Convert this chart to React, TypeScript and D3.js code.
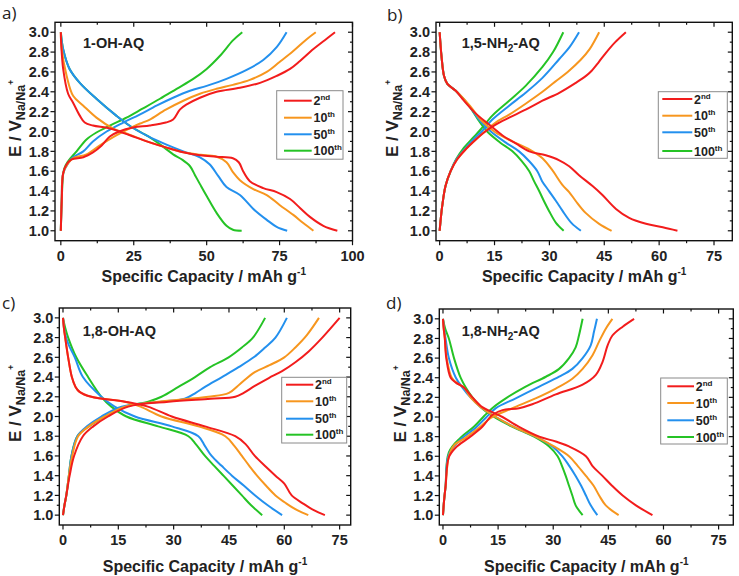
import React from "react";
import * as d3 from "d3";

type Pt = [number, number];

// Cycle legend entries shared by all four panels
const CYCLE_LABELS = ["2", "10", "50", "100"];
const CYCLE_SUFFIX = ["nd", "th", "th", "th"];
const CYCLE_COLORS = ["#f21c1c", "#f7961e", "#2390ee", "#25c325"];

const V_MAJOR = [1.0, 1.2, 1.4, 1.6, 1.8, 2.0, 2.2, 2.4, 2.6, 2.8, 3.0];
const V_MINOR = [1.1, 1.3, 1.5, 1.7, 1.9, 2.1, 2.3, 2.5, 2.7, 2.9];
const CAP_MAJOR_100 = [0, 25, 50, 75, 100];
const CAP_MINOR_100 = [12.5, 37.5, 62.5, 87.5];
const CAP_MAJOR_75 = [0, 15, 30, 45, 60, 75];
const CAP_MINOR_75 = [7.5, 22.5, 37.5, 52.5, 67.5];

// 1-OH-AQ : [capacity mAh/g, voltage V] per cycle (2nd, 10th, 50th, 100th)
const OH1_CHARGE: Pt[][] = [
  [[0,1.0],[0.3,1.3],[0.8,1.58],[2,1.67],[3.7,1.72],[7.7,1.74],[11,1.79],[14,1.86],[16.8,1.95],[20,2.0],[24.8,2.04],[30.5,2.06],[36,2.09],[38.5,2.12],[40.8,2.22],[43,2.27],[47.7,2.34],[53.4,2.4],[61.4,2.44],[68.3,2.49],[74,2.56],[78.6,2.63],[82,2.71],[86.6,2.83],[90.5,2.92],[94,3.0]],
  [[0,1.0],[0.3,1.3],[0.8,1.58],[2.5,1.68],[4.2,1.73],[8.8,1.77],[13.4,1.86],[19,1.96],[24.8,2.05],[28,2.09],[30.5,2.12],[36,2.22],[42,2.31],[47.7,2.38],[53.4,2.43],[59,2.47],[64.8,2.52],[70.6,2.6],[75,2.7],[79.7,2.81],[84.3,2.93],[87.4,3.0]],
  [[0,1.0],[0.3,1.3],[0.8,1.58],[2.5,1.68],[4.2,1.74],[7.7,1.8],[11,1.9],[15.7,2.0],[21.4,2.09],[27,2.17],[32.8,2.26],[38.5,2.34],[44.3,2.41],[50,2.46],[56.8,2.53],[63.7,2.62],[69.4,2.72],[74,2.85],[77.4,3.0]],
  [[0,1.0],[0.3,1.3],[1.1,1.62],[2.5,1.7],[5.4,1.8],[8.8,1.92],[12.2,1.99],[16.8,2.06],[22.5,2.14],[28,2.23],[34,2.33],[39.7,2.43],[45.4,2.53],[50,2.63],[54.5,2.76],[59.1,2.92],[62.2,3.0]],
];
const OH1_DISCHARGE: Pt[][] = [
  [[0,3.0],[0.1,2.9],[0.8,2.63],[2.5,2.38],[4.2,2.29],[6.5,2.16],[8.2,2.09],[11,2.06],[16.8,2.03],[24.8,1.95],[30.5,1.89],[36,1.84],[42,1.79],[47.7,1.76],[53.4,1.745],[59,1.73],[61,1.69],[62.5,1.6],[64.8,1.5],[69.4,1.43],[74,1.39],[78.6,1.32],[82,1.23],[85.4,1.14],[90,1.05],[94.8,1.0]],
  [[0,3.0],[0.3,2.83],[2,2.56],[4.2,2.36],[7.7,2.26],[12.2,2.14],[18,2.03],[22.5,1.98],[30.5,1.89],[36,1.84],[42,1.79],[48,1.765],[53,1.75],[56.8,1.69],[59,1.59],[61.4,1.51],[66,1.42],[70.6,1.36],[75,1.26],[79.7,1.16],[83,1.08],[86.6,1.0]],
  [[0,3.0],[0.8,2.83],[3,2.63],[6.5,2.49],[12.2,2.33],[19,2.16],[24,2.05],[30,1.95],[36,1.87],[42,1.8],[47.7,1.74],[51,1.67],[54,1.55],[56.8,1.44],[61.4,1.36],[66,1.22],[70.6,1.11],[74,1.04],[77.6,1.0]],
  [[0,3.0],[0.8,2.83],[3,2.63],[6.5,2.49],[12.2,2.33],[19,2.16],[24,2.05],[30,1.95],[34,1.87],[38.5,1.77],[41.4,1.72],[44.3,1.65],[46,1.56],[47.7,1.47],[50,1.35],[53.4,1.18],[56.8,1.05],[59,1.01],[62,1.0]],
];

// 1,5-NH2-AQ
const NH15_CHARGE: Pt[][] = [
  [[0,1.0],[0.3,1.12],[0.7,1.25],[1.6,1.45],[3,1.6],[4.8,1.72],[7.1,1.82],[9.9,1.92],[12.1,1.99],[15.3,2.07],[19,2.14],[23.5,2.22],[28.1,2.31],[32.7,2.39],[37.2,2.49],[40,2.56],[41.5,2.61],[43.5,2.7],[45.4,2.79],[48,2.9],[50.9,3.0]],
  [[0,1.0],[0.3,1.12],[0.7,1.25],[1.6,1.45],[3,1.6],[4.8,1.72],[7.1,1.82],[9.9,1.92],[12.1,1.99],[15.3,2.09],[19,2.17],[23.5,2.28],[28.1,2.4],[31.5,2.5],[35,2.6],[38.5,2.72],[41,2.83],[43.6,3.0]],
  [[0,1.0],[0.3,1.12],[0.7,1.25],[1.6,1.45],[3,1.6],[4.6,1.72],[6.8,1.82],[9.5,1.93],[11.5,2.0],[14.4,2.12],[19,2.26],[23.5,2.39],[28.1,2.54],[32.7,2.73],[35.5,2.85],[38.1,3.0]],
  [[0,1.0],[0.3,1.12],[0.7,1.25],[1.6,1.45],[3,1.6],[4.5,1.72],[6.5,1.83],[9.2,1.94],[11.2,2.02],[14.4,2.16],[19,2.31],[23.5,2.46],[28.1,2.65],[31,2.8],[33.8,3.0]],
];
const NH15_DISCHARGE: Pt[][] = [
  [[0,3.0],[0.5,2.76],[1.2,2.56],[2.1,2.48],[4.4,2.41],[6.2,2.33],[9.9,2.18],[13.5,2.07],[17.2,1.96],[20.8,1.88],[24.5,1.8],[29,1.76],[32.7,1.71],[35.4,1.65],[38.1,1.56],[41.8,1.45],[44.5,1.36],[48.2,1.22],[51.8,1.13],[56.4,1.07],[61,1.035],[65,1.0]],
  [[0,3.0],[0.5,2.76],[1.2,2.56],[2.1,2.48],[4.4,2.41],[8,2.27],[11.7,2.1],[15.3,1.99],[19.9,1.9],[24.5,1.82],[28.1,1.73],[30.8,1.61],[33.6,1.46],[35.4,1.39],[37.2,1.3],[39.9,1.18],[43.6,1.07],[47,1.0]],
  [[0,3.0],[0.5,2.76],[1.2,2.56],[2.1,2.48],[4.4,2.41],[8,2.26],[11,2.11],[14,2.0],[18,1.89],[21.7,1.8],[24.5,1.7],[26.7,1.6],[28,1.5],[29.9,1.4],[31.8,1.3],[33.6,1.2],[36,1.08],[38.6,1.0]],
  [[0,3.0],[0.5,2.76],[1.2,2.56],[2.1,2.48],[4.4,2.41],[8,2.26],[10.5,2.12],[13,2.0],[16.5,1.89],[19.9,1.8],[22.5,1.7],[24.5,1.6],[25.8,1.5],[27.2,1.4],[28.5,1.3],[29.9,1.2],[31.8,1.08],[33.9,1.0]],
];

// 1,8-OH-AQ
const OH18_CHARGE: Pt[][] = [
  [[0,1.0],[0.4,1.1],[0.9,1.2],[1.8,1.4],[3,1.6],[5.4,1.8],[8.2,1.9],[12.2,2.0],[17.7,2.1],[28.6,2.15],[40,2.18],[46.7,2.2],[49,2.24],[52,2.31],[55.8,2.39],[59.4,2.46],[63,2.55],[66.6,2.66],[70.3,2.8],[75,3.0]],
  [[0,1.0],[0.4,1.1],[0.9,1.2],[1.6,1.4],[2.5,1.6],[4.1,1.8],[7,1.9],[11.3,2.0],[16.8,2.1],[25.8,2.15],[39.4,2.2],[45,2.24],[48,2.33],[52,2.45],[56,2.52],[60,2.6],[63,2.7],[66,2.82],[69.4,3.0]],
  [[0,1.0],[0.4,1.1],[0.9,1.2],[1.6,1.4],[2.3,1.6],[3.9,1.8],[6.5,1.9],[10.4,2.0],[15.9,2.1],[26.7,2.15],[33,2.18],[36,2.24],[38.5,2.3],[43.1,2.4],[47.6,2.5],[51.7,2.6],[54.8,2.7],[57.6,2.8],[60.7,3.0]],
  [[0,1.0],[0.4,1.1],[0.9,1.2],[1.6,1.4],[2.3,1.6],[3.9,1.8],[7,1.9],[11.3,2.0],[16.8,2.1],[23.1,2.15],[26.7,2.2],[31.3,2.3],[35.8,2.4],[39.9,2.5],[44.9,2.6],[48.5,2.7],[51.5,2.8],[54.8,3.0]],
];
const OH18_DISCHARGE: Pt[][] = [
  [[0,3.0],[0.3,2.88],[0.6,2.8],[1.4,2.6],[2.4,2.4],[3.4,2.3],[4.5,2.25],[7.7,2.2],[16.8,2.15],[23,2.1],[29.5,2.0],[38.5,1.9],[46.7,1.8],[49.5,1.72],[52,1.6],[55,1.49],[57.6,1.4],[60,1.32],[62,1.2],[65,1.12],[68,1.05],[71,1.0]],
  [[0,3.0],[0.3,2.88],[0.6,2.8],[1.4,2.6],[2.4,2.4],[3.4,2.3],[4.5,2.25],[7.7,2.2],[16.8,2.15],[21,2.1],[26.7,2.0],[36.7,1.9],[44,1.8],[46.5,1.7],[48.5,1.6],[50.5,1.5],[52.6,1.4],[55,1.3],[57.6,1.2],[60.5,1.12],[63.5,1.05],[66.5,1.0]],
  [[0,3.0],[0.5,2.85],[1.5,2.73],[3.2,2.6],[5.4,2.4],[10.4,2.2],[14,2.1],[19.5,2.0],[29.5,1.9],[36.7,1.8],[38.5,1.7],[40.3,1.6],[43,1.5],[45.8,1.4],[49,1.3],[52.1,1.2],[55.5,1.1],[59.4,1.0]],
  [[0,3.0],[0.6,2.9],[1.4,2.8],[3.6,2.6],[6.8,2.4],[10.4,2.2],[13.1,2.1],[17.2,2.0],[25.8,1.9],[34,1.8],[36,1.72],[38.5,1.6],[41,1.5],[43.5,1.4],[46,1.3],[48.5,1.2],[51,1.1],[54,1.0]],
];

// 1,8-NH2-AQ
const NH18_CHARGE: Pt[][] = [
  [[0,1.0],[0.3,1.15],[0.7,1.29],[1.6,1.59],[3.5,1.69],[7.1,1.79],[10.7,1.9],[13.4,2.02],[16.2,2.07],[20.7,2.09],[24.3,2.13],[30.7,2.23],[38,2.33],[41.6,2.43],[43.4,2.56],[44.8,2.73],[46.1,2.83],[48.9,2.92],[52,3.0]],
  [[0,1.0],[0.3,1.15],[0.7,1.29],[1.6,1.6],[3,1.71],[6.2,1.79],[9.8,1.89],[13,1.99],[18.9,2.09],[25.2,2.19],[30.7,2.29],[35.2,2.39],[38,2.49],[40.7,2.63],[42.5,2.77],[44.3,2.9],[46.1,3.0]],
  [[0,1.0],[0.3,1.15],[0.7,1.29],[1.6,1.62],[4.8,1.77],[8.9,1.89],[11.6,1.99],[14.4,2.09],[19.8,2.19],[26.2,2.31],[31.6,2.41],[35.2,2.49],[38,2.6],[40.2,2.73],[41.1,2.87],[41.9,3.0]],
  [[0,1.0],[0.3,1.15],[0.7,1.29],[1.6,1.64],[4.8,1.79],[8.4,1.9],[11.2,2.01],[13.4,2.09],[17.1,2.19],[22.5,2.31],[28,2.41],[31.6,2.49],[34.3,2.6],[36.1,2.71],[37,2.83],[38,3.0]],
];
const NH18_DISCHARGE: Pt[][] = [
  [[0,3.0],[0.2,2.9],[0.5,2.8],[0.9,2.6],[2.1,2.4],[3.5,2.35],[5.7,2.3],[8,2.2],[10.7,2.1],[13.4,2.05],[16.2,2.0],[20.7,1.9],[26.2,1.8],[30.7,1.75],[34.3,1.7],[38.9,1.6],[40.7,1.5],[43.4,1.4],[46,1.3],[48.9,1.2],[52.5,1.1],[57,1.0]],
  [[0,3.0],[0.2,2.9],[0.5,2.8],[1,2.6],[2.4,2.4],[4,2.34],[5.7,2.3],[7.5,2.2],[10.3,2.1],[14.4,2.0],[19.3,1.9],[25.2,1.8],[30.2,1.7],[34.3,1.6],[36.7,1.5],[38.9,1.4],[41,1.3],[42.5,1.2],[44.3,1.1],[47.8,1.0]],
  [[0,3.0],[0.3,2.9],[0.7,2.8],[1.6,2.6],[3.5,2.4],[5.3,2.3],[7.5,2.2],[10.3,2.1],[14.4,2.0],[19.3,1.9],[25.2,1.8],[29.8,1.7],[32.5,1.6],[34.4,1.5],[36.1,1.4],[37.6,1.3],[38.9,1.2],[40.2,1.1],[42,1.0]],
  [[0,3.0],[0.6,2.9],[1.6,2.8],[3,2.6],[4.8,2.4],[6.2,2.3],[8,2.2],[10.3,2.1],[13.9,2.0],[18.9,1.9],[24.8,1.8],[28.9,1.7],[31.2,1.6],[32.4,1.5],[33.4,1.4],[34.3,1.3],[35.2,1.2],[36.1,1.1],[38,1.0]],
];

interface Panel {
  letter: string;
  letterX: number;
  letterY: number;
  name: string;
  sub?: string;
  nameTail?: string;
  nameX: number;
  nameY: number;
  l: number; t: number; r: number; b: number;
  xDomain: [number, number];
  xMajor: number[];
  xMinor: number[];
  charge: Pt[][];
  discharge: Pt[][];
  legend: { x: number; y: number; w: number; h: number; lx0: number; lx1: number; tx: number; rows: number[] };
  yTitleX: number;
  xTitleY: number;
}

const PANELS: Panel[] = [
  {
    letter: "a)", letterX: 2, letterY: 18.5, name: "1-OH-AQ", nameX: 83, nameY: 48,
    l: 55, t: 22.3, r: 352.5, b: 240.7, xDomain: [-2, 100],
    xMajor: CAP_MAJOR_100, xMinor: CAP_MINOR_100,
    charge: OH1_CHARGE, discharge: OH1_DISCHARGE,
    legend: { x: 276.7, y: 90.7, w: 66.3, h: 68.5, lx0: 284, lx1: 311.7, tx: 313.5, rows: [100.7, 117.7, 134.3, 150.7] },
    yTitleX: 20.5, xTitleY: 282,
  },
  {
    letter: "b)", letterX: 387, letterY: 21, name: "1,5-NH", sub: "2", nameTail: "-AQ", nameX: 461.7, nameY: 48,
    l: 436, t: 22.3, r: 732.3, b: 240.7, xDomain: [-1, 80],
    xMajor: CAP_MAJOR_75, xMinor: CAP_MINOR_75,
    charge: NH15_CHARGE, discharge: NH15_DISCHARGE,
    legend: { x: 658.3, y: 91.7, w: 69, h: 66.6, lx0: 662.3, lx1: 692.3, tx: 694, rows: [99, 115.7, 132.3, 151] },
    yTitleX: 397.5, xTitleY: 282,
  },
  {
    letter: "c)", letterX: 2, letterY: 309, name: "1,8-OH-AQ", nameX: 82.7, nameY: 336,
    l: 59.3, t: 308, r: 350.7, b: 525, xDomain: [-1, 78],
    xMajor: CAP_MAJOR_75, xMinor: CAP_MINOR_75,
    charge: OH18_CHARGE, discharge: OH18_DISCHARGE,
    legend: { x: 281.7, y: 377.3, w: 65, h: 65.7, lx0: 286, lx1: 313.3, tx: 315, rows: [384.7, 401.3, 418.7, 434.7] },
    yTitleX: 20.5, xTitleY: 572,
  },
  {
    letter: "d)", letterX: 386, letterY: 309, name: "1,8-NH", sub: "2", nameTail: "-AQ", nameX: 461.7, nameY: 336,
    l: 439.3, t: 309, r: 733.3, b: 525, xDomain: [-1, 79],
    xMajor: CAP_MAJOR_75, xMinor: CAP_MINOR_75,
    charge: NH18_CHARGE, discharge: NH18_DISCHARGE,
    legend: { x: 660.7, y: 378, w: 66.6, h: 66, lx0: 667.3, lx1: 694, tx: 695.7, rows: [386.3, 403, 420.3, 437] },
    yTitleX: 406, xTitleY: 572,
  },
];

const FONT = "'Liberation Sans', Arial, sans-serif";
const MAJOR = 4.5;
const MINOR = 2.5;

function PanelView({ p }: { p: Panel }) {
  const xs = d3.scaleLinear().domain(p.xDomain).range([p.l, p.r]);
  const ys = d3.scaleLinear().domain([0.9, 3.1]).range([p.b, p.t]);
  const line = d3
    .line<Pt>()
    .x((d) => xs(d[0]))
    .y((d) => ys(d[1]))
    .curve(d3.curveCatmullRom.alpha(0.5));
  const cx = (p.l + p.r) / 2;
  const cy = (p.t + p.b) / 2;
  const tickStroke = { stroke: "#111", strokeWidth: 1.2 };

  return (
    <g>
      {/* curves: draw 100th first so 2nd sits on top */}
      {[3, 2, 1, 0].map((i) => (
        <g key={i}>
          <path d={line(p.charge[i]) || ""} fill="none" stroke={CYCLE_COLORS[i]} strokeWidth={2} strokeLinejoin="round" />
          <path d={line(p.discharge[i]) || ""} fill="none" stroke={CYCLE_COLORS[i]} strokeWidth={2} strokeLinejoin="round" />
        </g>
      ))}

      {/* frame */}
      <rect x={p.l} y={p.t} width={p.r - p.l} height={p.b - p.t} fill="none" stroke="#111" strokeWidth={1.4} />

      {/* y ticks */}
      {V_MAJOR.map((v) => (
        <g key={"ym" + v}>
          <line x1={p.l - MAJOR} x2={p.l} y1={ys(v)} y2={ys(v)} {...tickStroke} />
          <line x1={p.r - MAJOR} x2={p.r} y1={ys(v)} y2={ys(v)} {...tickStroke} />
          <text x={p.l - 6} y={ys(v)} dy="0.36em" textAnchor="end" fontFamily={FONT} fontWeight="bold" fontSize={14.5} fill="#222">
            {v.toFixed(1)}
          </text>
        </g>
      ))}
      {V_MINOR.map((v) => (
        <g key={"yn" + v}>
          <line x1={p.l - MINOR} x2={p.l} y1={ys(v)} y2={ys(v)} {...tickStroke} />
          <line x1={p.r - MINOR} x2={p.r} y1={ys(v)} y2={ys(v)} {...tickStroke} />
        </g>
      ))}

      {/* x ticks */}
      {p.xMajor.map((c) => (
        <g key={"xm" + c}>
          <line x1={xs(c)} x2={xs(c)} y1={p.b} y2={p.b + MAJOR} {...tickStroke} />
          <line x1={xs(c)} x2={xs(c)} y1={p.t} y2={p.t + MAJOR} {...tickStroke} />
          <text x={xs(c)} y={p.b + 20} textAnchor="middle" fontFamily={FONT} fontWeight="bold" fontSize={14.5} fill="#222">
            {c}
          </text>
        </g>
      ))}
      {p.xMinor.map((c) => (
        <g key={"xn" + c}>
          <line x1={xs(c)} x2={xs(c)} y1={p.b} y2={p.b + MINOR} {...tickStroke} />
          <line x1={xs(c)} x2={xs(c)} y1={p.t} y2={p.t + MINOR} {...tickStroke} />
        </g>
      ))}

      {/* axis titles */}
      <text x={cx} y={p.xTitleY} textAnchor="middle" fontFamily={FONT} fontWeight="bold" fontSize={16} fill="#222">
        Specific Capacity / mAh g
        <tspan fontSize={10} dy={-7}>-1</tspan>
      </text>
      <text
        transform={`translate(${p.yTitleX},${cy + 25.5}) rotate(-90)`}
        textAnchor="start"
        fontFamily={FONT}
        fontWeight="bold"
        fontSize={17}
        fill="#222"
      >
        E / V
        <tspan fontSize={12.5} dy={4}>Na/Na</tspan>
        <tspan fontSize={8.5} dy={-11}>+</tspan>
      </text>

      {/* panel letter and compound name */}
      <text x={p.letterX} y={p.letterY} fontFamily="'Open Sans', 'Noto Sans', sans-serif" fontSize={17} fill="#222">
        {p.letter}
      </text>
      <text x={p.nameX} y={p.nameY} fontFamily={FONT} fontWeight="bold" fontSize={14.5} fill="#222">
        {p.name}
        {p.sub && (
          <tspan fontSize={10} dy={4}>
            {p.sub}
          </tspan>
        )}
        {p.nameTail && <tspan dy={-4}>{p.nameTail}</tspan>}
      </text>

      {/* legend */}
      <rect x={p.legend.x} y={p.legend.y} width={p.legend.w} height={p.legend.h} fill="#fff" stroke="#8a8a8a" strokeWidth={1} />
      {CYCLE_LABELS.map((lab, i) => (
        <g key={"lg" + lab}>
          <line
            x1={p.legend.lx0}
            x2={p.legend.lx1}
            y1={p.legend.rows[i]}
            y2={p.legend.rows[i]}
            stroke={CYCLE_COLORS[i]}
            strokeWidth={2}
          />
          <text x={p.legend.tx} y={p.legend.rows[i] + 4.5} fontFamily={FONT} fontWeight="bold" fontSize={12.5} fill="#222">
            {lab}
            <tspan fontSize={8} dy={-5}>
              {CYCLE_SUFFIX[i]}
            </tspan>
          </text>
        </g>
      ))}
    </g>
  );
}

export default function App() {
  return (
    <svg
      width={739}
      height={576}
      viewBox="0 0 739 576"
      style={{ position: "absolute", left: 0, top: 0, background: "#fff" }}
    >
      <rect x={0} y={0} width={739} height={576} fill="#fff" />
      {PANELS.map((p) => (
        <PanelView key={p.letter} p={p} />
      ))}
    </svg>
  );
}
